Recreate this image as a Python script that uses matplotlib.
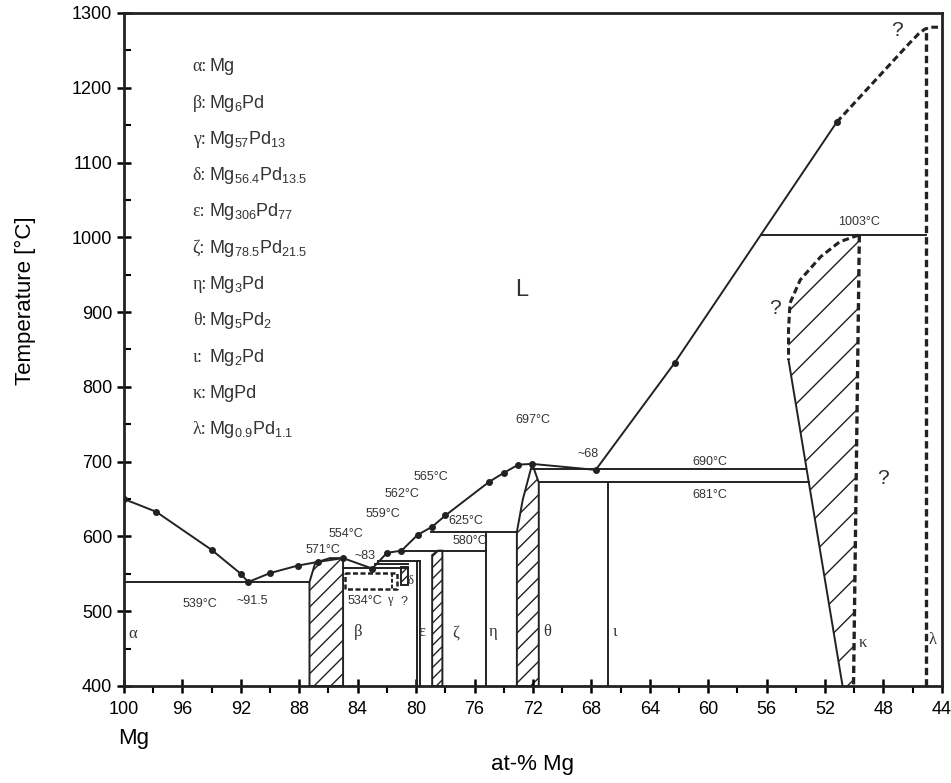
import numpy as np
import matplotlib
matplotlib.use("Agg")
import matplotlib.pyplot as plt
from matplotlib.patches import Polygon

plt.rcParams["font.family"] = ["Liberation Sans", "DejaVu Sans"]
plt.rcParams["mathtext.default"] = "regular"
plt.rcParams["hatch.linewidth"] = 1.0
serif = ["Liberation Serif", "DejaVu Serif"]

# liquidus (solid part, measured points)
liq_x = [100.0, 97.8, 94.0, 92.0, 91.5, 90.0, 88.1, 86.7, 85.0, 83.0, 82.0, 81.0,
         79.9, 78.9, 78.0, 75.0, 74.0, 73.0, 72.05, 67.7, 62.3, 51.2]
liq_t = [650, 633, 582, 550, 539, 551, 561, 566, 571, 557, 578, 581,
         602, 613, 628, 673, 685, 696, 697, 689, 832, 1154]
# liquidus (uncertain, dashed)
liq_dash_x = [51.2, 46.2, 45.6, 45.2, 44.8, 44.1]
liq_dash_t = [1154, 1260, 1272, 1278, 1281, 1281]

# hatched phase fields
beta_x = [87.3, 87.3, 86.9, 85.9, 85.0, 85.0]
beta_t = [400, 539, 565, 571, 571, 400]
zeta_x = [78.9, 78.9, 78.5, 78.2, 78.2]
zeta_t = [400, 575, 581, 581, 400]
theta_x = [73.1, 73.1, 72.7, 72.05, 71.6, 71.6]
theta_t = [400, 606, 649, 697, 672, 400]
delta_x = [81.0, 81.0, 80.55, 80.55]
delta_t = [535, 559, 559, 535]
kappa_dash_x = [49.7, 51.0, 52.3, 53.7, 54.4, 54.5, 54.5]
kappa_dash_t = [1003, 994, 974, 943, 912, 876, 836]
kappa_solid_x = [54.5, 50.8]
kappa_solid_t = [836, 400]
kappa_right_x = [49.65, 50.05]
kappa_right_t = [1003, 400]

# horizontal invariant lines: (x_start, x_end, T)
h_lines = [(100.0, 87.3, 539), (85.0, 80.55, 558), (82.8, 80.55, 563),
           (82.6, 79.73, 567), (81.0, 75.2, 581), (79.0, 73.1, 606),
           (72.0, 53.3, 690), (71.6, 53.1, 673), (56.4, 45.1, 1003)]
# vertical phase lines: (x, T_top)
v_lines = [(79.95, 567), (79.73, 567), (75.2, 606), (66.85, 673)]
# gamma (uncertain) box
gamma_x = [84.9, 81.3, 81.3, 84.9]
gamma_t = [551, 551, 530, 530]
lambda_x = 45.1
lambda_top = 1281

temp_labels = [("571°C", 86.4, 582), ("554°C", 84.8, 603), ("559°C", 82.3, 630),
               ("562°C", 81.0, 657), ("565°C", 79.0, 679), ("697°C", 72.0, 756),
               ("~68", 68.2, 710), ("690°C", 59.9, 699), ("681°C", 59.9, 656),
               ("625°C", 76.6, 621), ("580°C", 76.3, 594), ("~83", 83.5, 574),
               ("539°C", 94.8, 510), ("~91.5", 91.2, 514), ("534°C", 83.5, 513),
               ("1003°C", 49.7, 1020)]
phase_labels = [("α", 99.4, 470), ("β", 84.0, 472), ("ε", 79.6, 472), ("ζ", 77.3, 472),
                ("η", 74.7, 472), ("θ", 71.0, 472), ("ι", 66.4, 472),
                ("κ", 49.4, 458), ("λ", 44.65, 462)]
legend_greek = ["α", "β", "γ", "δ", "ε", "ζ", "η", "θ", "ι", "κ", "λ"]
legend_formula = ["Mg", "Mg$_6$Pd", "Mg$_{57}$Pd$_{13}$", "Mg$_{56.4}$Pd$_{13.5}$",
                  "Mg$_{306}$Pd$_{77}$", "Mg$_{78.5}$Pd$_{21.5}$", "Mg$_3$Pd",
                  "Mg$_5$Pd$_2$", "Mg$_2$Pd", "MgPd", "Mg$_{0.9}$Pd$_{1.1}$"]

fig = plt.figure(figsize=(9.51, 7.83), dpi=100)
ax = fig.add_axes([0.1304, 0.1239, 0.860, 0.8595])
lc = "#222222"
tc = "#333333"
lw = 1.4

# hatched fields
for px, pt, h in [(beta_x, beta_t, "//"), (zeta_x, zeta_t, "///"),
                  (theta_x, theta_t, "//"), (delta_x, delta_t, "////")]:
    ax.add_patch(Polygon(np.column_stack([px, pt]), closed=True, facecolor="none",
                         edgecolor=lc, lw=lw, hatch=h))
kx = kappa_dash_x + kappa_solid_x[1:] + kappa_right_x[::-1]
kt = kappa_dash_t + kappa_solid_t[1:] + kappa_right_t[::-1]
ax.add_patch(Polygon(np.column_stack([kx, kt]), closed=True, facecolor="none",
                     edgecolor=lc, lw=0, hatch="/"))
dash = (0, (2.2, 1.2))
ax.plot(kappa_dash_x, kappa_dash_t, color=lc, lw=2.2, ls=dash)
ax.plot(kappa_solid_x, kappa_solid_t, color=lc, lw=lw)
ax.plot(kappa_right_x, kappa_right_t, color=lc, lw=2.4, ls=dash)
ax.plot([lambda_x, lambda_x], [400, lambda_top], color=lc, lw=2.4, ls=dash)
ax.plot(gamma_x + gamma_x[:1], gamma_t + gamma_t[:1], color=lc, lw=1.8, ls=(0, (2, 1)))
ax.plot([81.65, 81.65], [551, 530], color=lc, lw=1.4, ls=(0, (2, 1)))

for x0, x1, t in h_lines:
    ax.plot([x0, x1], [t, t], color=lc, lw=lw)
for x, t in v_lines:
    ax.plot([x, x], [400, t], color=lc, lw=lw)

ax.plot(liq_x, liq_t, color=lc, lw=lw, marker="o", ms=4, zorder=5)
ax.plot(liq_dash_x, liq_dash_t, color=lc, lw=2.2, ls=dash)

for s, x, t in temp_labels:
    ax.text(x, t, s, fontsize=9, ha="center", va="center", color=tc)
for s, x, t in phase_labels:
    ax.text(x, t, s, fontsize=12, ha="center", va="center", family=serif, color=tc)
ax.text(81.8, 515, "γ", fontsize=9, ha="center", va="center", family=serif, color=tc)
ax.text(80.8, 512, "?", fontsize=9, ha="center", va="center", color=tc)
ax.text(80.4, 540, "δ", fontsize=9, ha="center", va="center", family=serif, color=tc)
ax.text(72.8, 930, "L", fontsize=17, ha="center", va="center", color=tc)
ax.text(55.4, 905, "?", fontsize=15, ha="center", va="center", color=tc)
ax.text(48.0, 678, "?", fontsize=15, ha="center", va="center", color=tc)
ax.text(47.1, 1277, "?", fontsize=15, ha="center", va="center", color=tc)

for i, (g, f) in enumerate(zip(legend_greek, legend_formula)):
    y = 0.920 - i * 0.0539
    ax.text(0.084, y, g + ":", transform=ax.transAxes, fontsize=13, family=serif,
            va="center", color=tc)
    ax.text(0.104, y, f, transform=ax.transAxes, fontsize=13, va="center", color=tc)

ax.set_xlim(100, 44)
ax.set_ylim(400, 1300)
ax.set_xticks(np.arange(100, 43, -4))
ax.set_xticks(np.arange(98, 43, -4), minor=True)
ax.set_yticks(np.arange(400, 1301, 100))
ax.set_yticks(np.arange(450, 1300, 100), minor=True)
ax.tick_params(axis="x", which="major", direction="inout", length=10, width=1.8,
               labelsize=13, pad=6)
ax.tick_params(axis="x", which="minor", direction="out", length=5, width=1.5)
ax.tick_params(axis="y", which="major", direction="inout", length=10, width=1.8,
               labelsize=13)
ax.tick_params(axis="y", which="minor", direction="in", length=5, width=1.5)
for sp in ax.spines.values():
    sp.set_linewidth(2)
    sp.set_color(lc)
ax.set_xlabel("at-% Mg", fontsize=16, labelpad=26)
ax.set_ylabel("Temperature [°C]", fontsize=16, labelpad=18)
ax.yaxis.set_label_coords(-0.107, 0.572)
ax.text(100.4, 330, "Mg", fontsize=16, ha="left", va="center", clip_on=False)

fig.savefig("out.png", dpi=100)
